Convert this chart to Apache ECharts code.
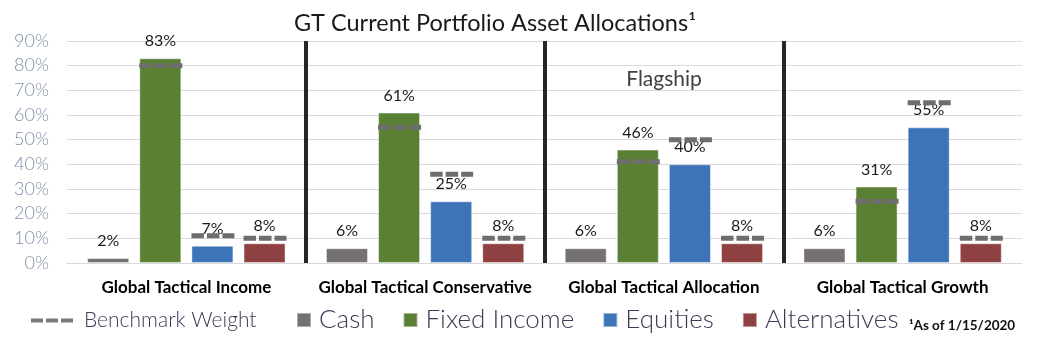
<!DOCTYPE html>
<html><head><meta charset="utf-8">
<script src="https://cdn.jsdelivr.net/npm/echarts@6/dist/echarts.min.js"></script>
<style>html,body{margin:0;padding:0;background:#fff}#c{width:1037px;height:341px}</style>
</head><body><div id="c"></div>
<script>
const categories = ['Global Tactical Income', 'Global Tactical Conservative', 'Global Tactical Allocation', 'Global Tactical Growth'];
const assetNames = ['Cash', 'Fixed Income', 'Equities', 'Alternatives'];
const cash = [2, 6, 6, 6];
const fixedIncome = [83, 61, 46, 31];
const equities = [7, 25, 40, 55];
const alternatives = [8, 8, 8, 8];
const benchFixedIncome = [80, 55, 41, 25];
const benchEquities = [11, 36, 50, 65];
const benchAlternatives = [10, 10, 10, 10];
const yMin = 0, yMax = 90, yStep = 10;

const assetColors = ['#767171', '#5a8133', '#3d74b7', '#8f4040'];
const BAR_FRAC = 0.176, BAR_GAP = 0.24;

const benchData = [];
[[1, benchFixedIncome], [2, benchEquities], [3, benchAlternatives]].forEach(([k, arr]) => {
  arr.forEach((v, i) => benchData.push([i, k, v]));
});

const chart = echarts.init(document.getElementById('c'));
const valueSeries = [cash, fixedIncome, equities, alternatives].map((arr, k) => ({
  name: assetNames[k],
  type: 'bar',
  data: arr,
  barWidth: (BAR_FRAC * 100) + '%',
  barGap: (BAR_GAP * 100) + '%',
  itemStyle: { color: assetColors[k], borderColor: 'rgba(255,255,255,0.45)', borderWidth: 1 },
  label: {
    show: true, position: 'top', distance: 9, formatter: '{c}%',
    fontFamily: 'Lato', fontSize: 16, color: '#1a1a1a'
  },
  z: 2
}));

chart.setOption({
  animation: false,
  title: [
    { text: 'GT Current Portfolio Asset Allocations\u00b9', left: 490, top: 6, textAlign: 'center',
      textStyle: { fontFamily: 'Lato', fontWeight: 'normal', fontSize: 23.5, color: '#1a1a1a' } },
    { text: 'Flagship', left: 659, top: 64, textAlign: 'center',
      textStyle: { fontFamily: 'Lato', fontWeight: 'normal', fontSize: 21, color: '#404040' } },
    { text: '\u00b9As of 1/15/2020', left: 904, top: 314,
      textStyle: { fontFamily: 'Lato', fontWeight: 'bold', fontSize: 13.5, color: '#111' } }
  ],
  grid: { left: 67, right: 15, top: 41, bottom: 78 },
  legend: [
    { data: ['Benchmark Weight'], left: 26, top: 305, itemWidth: 42, itemHeight: 5,
      icon: 'path://M0,0h12v4h-12z M15,0h12v4h-12z M30,0h12v4h-12z',
      textStyle: { fontFamily: 'Lato', fontWeight: 300, fontSize: 21, color: '#3b3b55', padding: [0, 0, 0, 6] } },
    { data: assetNames, left: 291, top: 302, itemWidth: 14, itemHeight: 14, itemGap: 28, icon: 'rect',
      textStyle: { fontFamily: 'Lato', fontWeight: 300, fontSize: 26, color: '#3b3b55', padding: [0, 0, 0, 3] } }
  ],
  xAxis: {
    type: 'category', data: categories,
    axisLine: { show: true, lineStyle: { color: '#d9d9d9' } },
    axisTick: { show: false },
    axisLabel: { interval: 0, fontFamily: 'Lato', fontWeight: 'bold', fontSize: 17, color: '#000', margin: 16 },
    splitLine: { show: true, interval: 0, showMinLine: false, showMaxLine: false, lineStyle: { color: '#262626', width: 4 } }
  },
  yAxis: {
    type: 'value', min: yMin, max: yMax, interval: yStep,
    axisLine: { show: false }, axisTick: { show: false },
    axisLabel: { formatter: '{value}%', fontFamily: 'Lato', fontWeight: 300, fontSize: 18, color: '#8190a8', margin: 18 },
    splitLine: { lineStyle: { color: '#d9d9de', width: 1 } }
  },
  series: valueSeries.concat([{
    name: 'Benchmark Weight',
    type: 'custom',
    data: benchData,
    encode: { x: 0, y: 2 },
    itemStyle: { color: '#7a7a7a' },
    z: 5,
    renderItem: function (params, api) {
      const cat = api.value(0), k = api.value(1), v = api.value(2);
      const c = api.coord([cat, v]);
      const band = api.size([1, 0])[0];
      const bw = band * BAR_FRAC;
      const pitch = bw * (1 + BAR_GAP);
      const x = c[0] + (k - 1.5) * pitch;
      return {
        type: 'line',
        shape: { x1: x - bw / 2, y1: c[1], x2: x + bw / 2 + 1, y2: c[1] },
        style: { stroke: '#6e6e6e', lineWidth: 5, lineDash: [12.5, 3] }
      };
    }
  }])
});
</script></body></html>
